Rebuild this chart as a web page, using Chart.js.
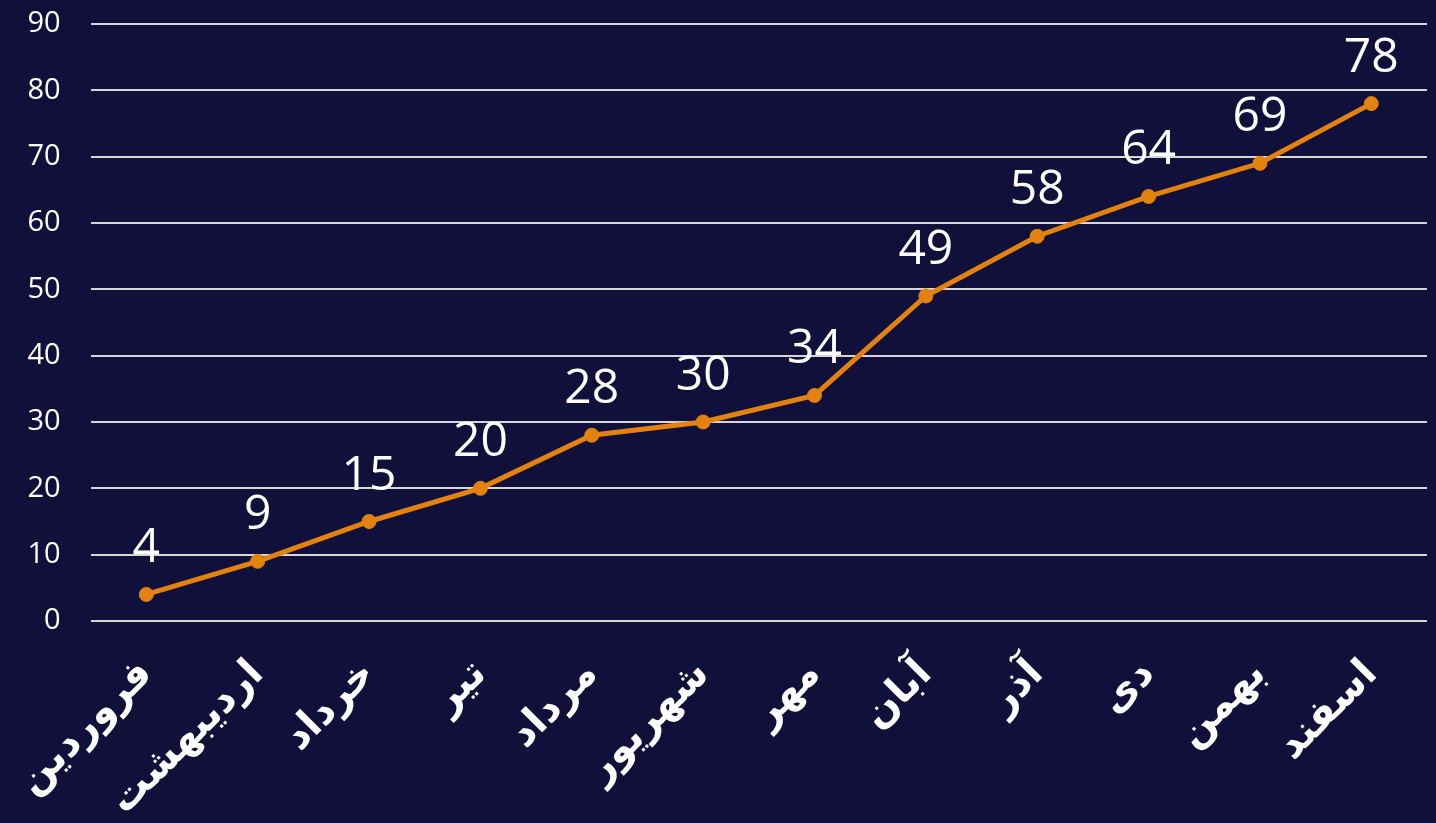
<!DOCTYPE html>
<html>
<head>
<meta charset="utf-8">
<script src="https://cdn.jsdelivr.net/npm/chart.js@4.4.1/dist/chart.umd.min.js"></script>
<style>
  html, body { margin: 0; padding: 0; background: #11103a; }
  #wrap { width: 1436px; height: 823px; }
</style>
</head>
<body>
<div id="wrap"><canvas id="sales-chart"></canvas></div>
<script>
// months (Persian calendar) and the values shown above each point
const months = ['فروردین', 'اردیبهشت', 'خرداد', 'تیر', 'مرداد', 'شهریور', 'مهر', 'آبان', 'آذر', 'دی', 'بهمن', 'اسفند'];
const values = [4, 9, 15, 20, 28, 30, 34, 49, 58, 64, 69, 78];
const yTicks = [0, 10, 20, 30, 40, 50, 60, 70, 80, 90];

// draws the value above each point (no datalabels plugin here)
const valueLabels = {
  id: 'valueLabels',
  afterDatasetsDraw(chart) {
    const ctx = chart.ctx;
    const meta = chart.getDatasetMeta(0);
    ctx.save();
    ctx.fillStyle = '#ffffff';
    ctx.font = '48px "Open Sans"';
    ctx.textAlign = 'center';
    ctx.textBaseline = 'alphabetic';
    meta.data.forEach((pt, i) => {
      ctx.fillText(String(values[i]), pt.x, pt.y - 32);
    });
    ctx.restore();
  },
};

const chart = new Chart(document.getElementById('sales-chart'), {
  type: 'line',
  data: {
    labels: months,
    datasets: [
      {
        data: values,
        borderColor: '#e3820f',
        backgroundColor: '#e3820f',
        borderWidth: 5,
        pointRadius: 7,
        pointBorderWidth: 1,
        pointHoverRadius: 7,
        tension: 0,
      },
    ],
  },
  options: {
    responsive: true,
    maintainAspectRatio: false,
    animation: false,
    layout: { padding: { top: 0, right: 9, left: 0, bottom: 0 } },
    plugins: {
      legend: { display: false },
      tooltip: { enabled: false },
    },
    scales: {
      x: {
        offset: true,
        grid: { display: false },
        border: { display: false },
        ticks: {
          color: '#ffffff',
          font: { family: '"DejaVu Sans"', size: 40, weight: 'bold' },
          minRotation: 45,
          maxRotation: 45,
          padding: 22,
        },
        afterFit(scale) { scale.height = 202; },
      },
      y: {
        min: 0,
        max: 90,
        afterBuildTicks(scale) { scale.ticks = yTicks.map((v) => ({ value: v })); },
        grid: { color: '#d6d6d6', lineWidth: 2, drawTicks: false },
        border: { display: false },
        ticks: {
          color: '#ffffff',
          font: { family: '"Open Sans"', size: 29 },
          padding: 30,
        },
        afterFit(scale) {
          scale.width = 90;
          scale.paddingTop = 24;
          scale.paddingBottom = 0;
        },
      },
    },
  },
  plugins: [valueLabels],
});
</script>
</body>
</html>
